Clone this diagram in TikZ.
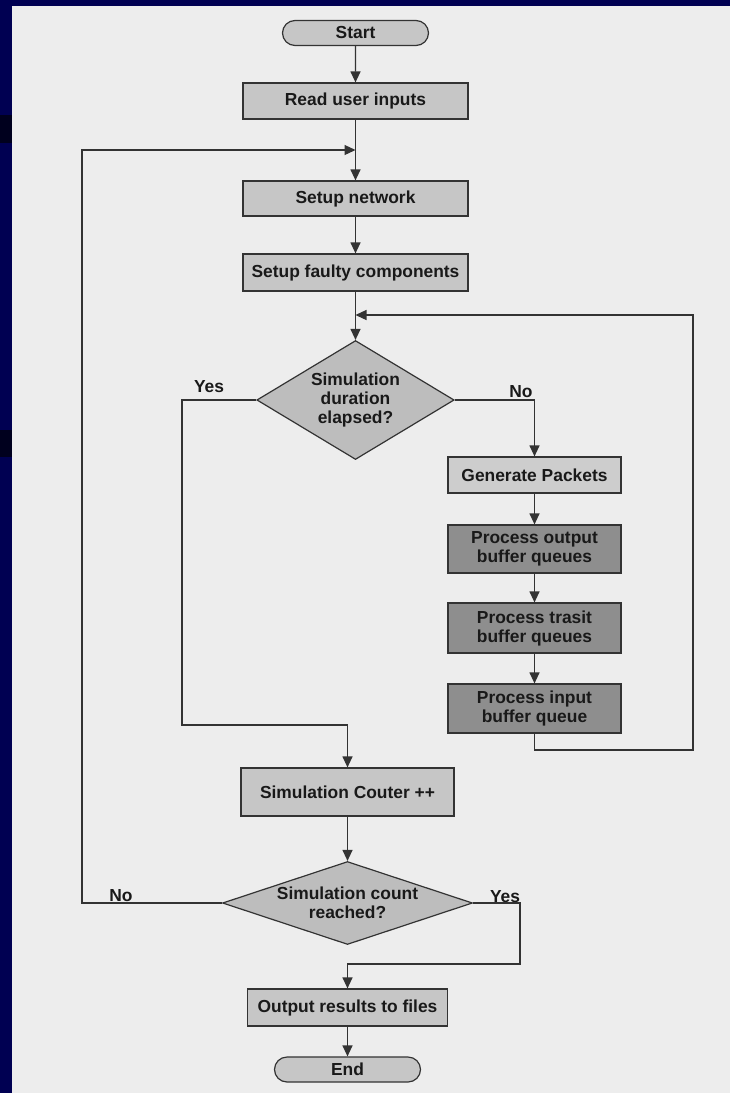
\documentclass[tikz,border=0pt]{standalone}
\usepackage{fontspec}
\setsansfont{Liberation Sans}
\usepackage{tikz}
\usetikzlibrary{arrows.meta, shapes.geometric, shapes.misc}
\definecolor{navybg}{HTML}{000052}
\definecolor{navydark}{HTML}{00001E}
\definecolor{panelgray}{HTML}{EDEDED}
\definecolor{boxgray}{HTML}{C6C6C6}
\definecolor{lightbox}{HTML}{CDCDCD}
\definecolor{procdark}{HTML}{8E8E8E}
\definecolor{decgray}{HTML}{BDBDBD}
\definecolor{edgegray}{HTML}{333333}

\begin{document}
\begin{tikzpicture}[x=1pt, y=-1pt,
    every node/.style={font=\sffamily\bfseries\fontsize{17.4}{19}\selectfont, text=black!90},
    procbox/.style={rectangle, draw=edgegray, line width=1.2pt, fill=boxgray, inner sep=0pt, align=center},
    decision/.style={diamond, draw=edgegray, line width=1.2pt, fill=decgray, inner sep=0pt, align=center},
    terminal/.style={rounded rectangle, draw=edgegray, line width=1.2pt, fill=boxgray, inner sep=0pt, minimum width=146pt, minimum height=25pt},
    flow/.style={draw=edgegray, line width=1.2pt, -{Triangle[length=11pt,width=10pt]}},
    lbl/.style={inner sep=0pt}]
  \useasboundingbox (0,0) rectangle (730,1093);
  \fill[navybg] (0,0) rectangle (730,1093);
  \fill[navydark] (0,115) rectangle (12,143);
  \fill[navydark] (0,430) rectangle (12,457);
  \fill[panelgray] (12,6) rectangle (730,1093);

  \node[terminal] (start) at (355.5,33) {Start};
  \node[procbox, minimum width=225pt, minimum height=36pt] (read) at (355.5,101) {Read user inputs};
  \node[procbox, minimum width=225pt, minimum height=35pt] (setnet) at (355.5,198.5) {Setup network};
  \node[procbox, minimum width=225pt, minimum height=37pt] (faulty) at (355.5,272.5) {Setup faulty components};
  \node[decision, aspect=2, minimum width=196pt, minimum height=119pt] (dur) at (355.5,400) {Simulation\\duration\\elapsed?};
  \node[procbox, fill=lightbox, minimum width=173pt, minimum height=36pt] (gen) at (534.5,475) {Generate Packets};
  \node[procbox, fill=procdark, minimum width=173pt, minimum height=48pt] (outq) at (534.5,549) {Process output\\buffer queues};
  \node[procbox, fill=procdark, minimum width=173pt, minimum height=50pt] (traq) at (534.5,628) {Process trasit\\buffer queues};
  \node[procbox, fill=procdark, minimum width=173pt, minimum height=49pt] (inq) at (534.5,708.5) {Process input\\buffer queue};
  \node[procbox, minimum width=213pt, minimum height=48pt] (count) at (347.5,792) {Simulation Couter ++};
  \node[decision, aspect=3, minimum width=250pt, minimum height=83pt] (reach) at (347.5,903) {Simulation count\\reached?};
  \node[procbox, minimum width=200pt, minimum height=37pt] (outres) at (347.5,1007.5) {Output results to files};
  \node[terminal] (stop) at (347.5,1069.5) {End};

  \node[lbl] (yes1) at (209,387) {Yes};
  \node[lbl] (no1) at (521,392) {No};
  \node[lbl] (no2) at (121,896) {No};
  \node[lbl] (yes2) at (505,897) {Yes};

  \coordinate (j1) at (355.5,150);
  \coordinate (j2) at (355.5,315);
  \coordinate (nl) at (82,150);
  \coordinate (yl) at (182,725);
  \coordinate (rb) at (693,750);
  \coordinate (rt) at (693,315);
  \coordinate (yr) at (520,964);

  \draw[flow] (start) -- (read);
  \draw[flow] (read) -- (setnet);
  \draw[flow] (setnet) -- (faulty);
  \draw[flow] (faulty) -- (dur);
  \draw[flow] (dur.west) -| (yl) -| (count.north);
  \draw[flow] (dur.east) -| (gen.north);
  \draw[flow] (gen) -- (outq);
  \draw[flow] (outq) -- (traq);
  \draw[flow] (traq) -- (inq);
  \draw[flow] (inq.south) |- (rb) -- (rt) -- (j2);
  \draw[flow] (count) -- (reach);
  \draw[flow] (reach.west) -| (nl) -- (j1);
  \draw[flow] (reach.east) -| (yr) -| (outres.north);
  \draw[flow] (outres) -- (stop);
\end{tikzpicture}
\end{document}
